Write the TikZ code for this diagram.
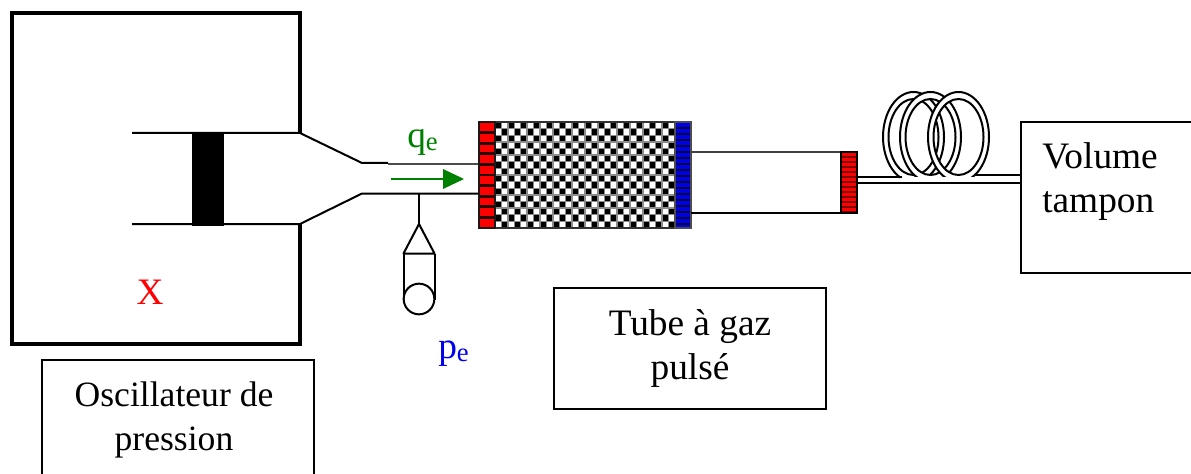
\documentclass[tikz,border=0pt]{standalone}
\usepackage{fontspec}
\setmainfont{Liberation Serif}
\definecolor{ogreen}{RGB}{0,128,0}
\definecolor{oblue}{RGB}{0,0,235}
\definecolor{dkred}{RGB}{120,0,0}
\tikzset{
  thickwall/.style={draw=black,line width=2.4pt},
  pipe/.style={draw=black,line width=1.5pt,line join=round},
  label/.style={draw=black,line width=1.2pt,align=center,font=\fontsize{28}{33}\selectfont,inner sep=0pt},
  ring/.style={draw=black,line width=1.5pt,fill=white,even odd rule},
  txt/.style={inner sep=0pt,font=\fontsize{28}{33}\selectfont}
}
\newcommand{\subE}{\raisebox{-2.5pt}{\fontsize{20}{22}\selectfont e}}
\begin{document}
\begin{tikzpicture}[x=0.75pt,y=-0.75pt]
\useasboundingbox (0,0) rectangle (1191,474);
\fill[white] (0,0) rectangle (1191,474);
% oscillator case
\draw[thickwall] (300,133) -- (300,13) -- (12,13) -- (12,344) -- (300,344) -- (300,224);
% piston and pipes
\draw[pipe] (132,133) -- (300,133) -- (362,163) -- (388,163);
\draw[draw=black!70,line width=1pt] (388,164) -- (479,164);
\draw[pipe] (132,224) -- (300,224) -- (362,193.5) -- (479,193.5);
\fill[black] (192,132) rectangle (224,226);
% flow arrow
\coordinate (af) at (391,179);
\coordinate (at) at (464,179);
\draw[ogreen,line width=1.5pt] (af) -- (445,179);
\fill[ogreen] (at) -- (443,169) -- (443,189) -- cycle;
% pressure sensor
\coordinate (st) at (419,193);
\coordinate (sa) at (419,224);
\draw[pipe] (st) -- (sa);
\draw[pipe] (sa) -- (403.5,253.5) -- (434.5,253.5) -- cycle;
\draw[pipe] (403.5,253.5) -- (403.5,300);
\draw[pipe] (434.5,253.5) -- (434.5,300);
\node[circle,draw=black,line width=1.5pt,fill=white,minimum size=23pt,inner sep=0pt] (sensor) at (419,299) {};
% regenerator checker
\fill[black!45] (495,122) rectangle (675,228);
\foreach \i in {0,...,27}{\foreach \j in {0,...,15}{
  \pgfmathparse{int(mod(\i+\j,2))}
  \ifnum\pgfmathresult=0
    \fill[black] ({495.7+\i*6.43},{122.7+\j*6.62}) rectangle ({495+(\i+1)*6.43-.7},{122+(\j+1)*6.62-.7});
  \else
    \fill[white] ({495.7+\i*6.43},{122.7+\j*6.62}) rectangle ({495+(\i+1)*6.43-.7},{122+(\j+1)*6.62-.7});
  \fi}}
\draw[draw=black!80,line width=1pt] (495,122) -- (675,122);
\draw[draw=black!80,line width=1pt] (495,228) -- (675,228);
% hot exchanger
\fill[red] (479,122) rectangle (495,228);
\foreach \j in {0,...,10}{\draw[black!85!red,line width=2pt] (479,{122+\j*10.6}) -- (495,{122+\j*10.6});}
\draw[black!90,line width=1.5pt] (479,122) rectangle (495,228);
% cold exchanger
\fill[oblue] (675,122) rectangle (691,228);
\foreach \j in {0,...,17}{\draw[black!80!blue,line width=1pt] (675,{122+\j*6}) -- (691,{122+\j*6});}
\draw[black!70,line width=1.2pt] (675,122) rectangle (691,228);
% pulse tube
\draw[draw=black!75,line width=1.3pt] (691,152) -- (841,152);
\draw[pipe] (691,213) -- (841,213);
% third exchanger
\fill[red] (841,152) rectangle (857,213);
\foreach \j in {0,...,12}{\draw[dkred,line width=1.2pt] (841,{152+\j*5}) -- (857,{152+\j*5});}
\draw[black,line width=1.6pt] (841,152) rectangle (857,213);
% capillary coils
\draw[ring] (913.5,137) ellipse [x radius=30.5,y radius=45] (913.5,137) ellipse [x radius=25,y radius=38];
\draw[ring] (930.5,137) ellipse [x radius=30.5,y radius=45] (930.5,137) ellipse [x radius=25,y radius=38];
\draw[ring] (958.5,137) ellipse [x radius=30.5,y radius=45] (958.5,137) ellipse [x radius=25,y radius=38];
\coordinate (cl) at (857,177);
\coordinate (cr) at (1021,175);
\fill[white] (900,177) rectangle (1021,182);
\draw[pipe] (cl) -- (902,177);
\draw[pipe] (975,175) -- (cr);
\draw[pipe] (857,183) -- (1021,183);
% volume
\draw[draw=black,line width=1.2pt] (1191,122) -- (1021,122) -- (1021,273) -- (1191,273);
% labels
\node[txt,align=left,anchor=west] (vol) at (1042,181.5) {Volume\\tampon};
\node[label,minimum width=272*0.75pt,minimum height=121*0.75pt] (tube) at (690,348.5) {Tube à gaz\\pulsé};
\draw[draw=black,line width=1.2pt] (42,474) -- (42,360) -- (314,360) -- (314,474);
\node[txt,align=center,font=\fontsize{26.7}{33}\selectfont] (osc) at (174,420) {Oscillateur de\\pression};
\node[txt,text=red] (x) at (150,292) {X};
\node[txt,text=ogreen,anchor=base west] (qe) at (407,147) {q\subE};
\node[txt,text=oblue,anchor=base west] (pe) at (438,358) {p\subE};
\end{tikzpicture}
\end{document}
